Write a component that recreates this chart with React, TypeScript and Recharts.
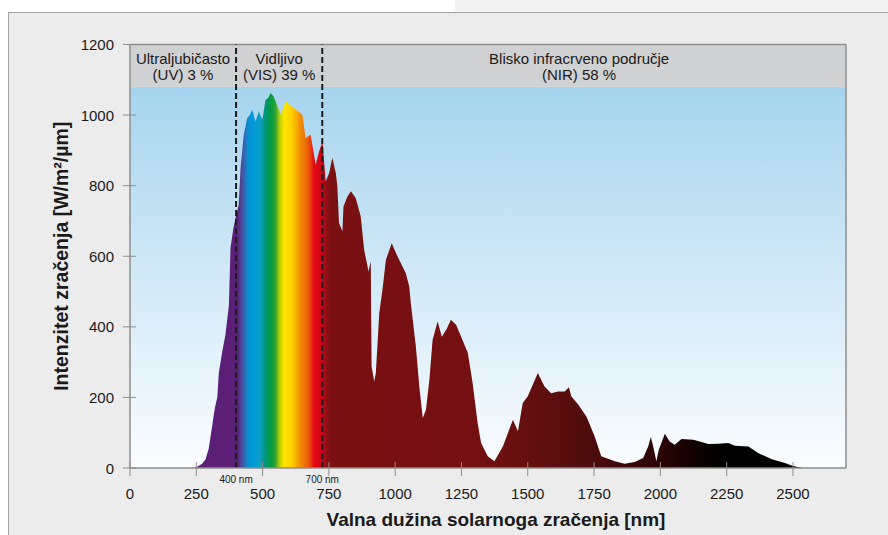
import React from 'react';
import { AreaChart, Area, XAxis, YAxis, ReferenceArea, ReferenceLine } from 'recharts';

// Spectral irradiance of sunlight
const WAVELENGTH_NM = [
  230, 250, 272, 285, 297, 310, 320, 329, 335, 348, 360, 373, 379, 390, 398, 410, 417, 429, 442, 452,
  461, 473, 486, 499, 511, 522, 530, 540, 549, 568, 587, 600, 612, 630, 650, 662, 681, 700, 713, 726,
  738, 751, 763, 776, 782, 788, 801, 805, 820, 833, 851, 870, 883, 896, 899, 908, 911, 921, 927, 940,
  952, 965, 987, 1009, 1040, 1053, 1059, 1078, 1091, 1104, 1116, 1129, 1141, 1160, 1176, 1195, 1210, 1230, 1248, 1274,
  1292, 1311, 1324, 1349, 1374, 1406, 1444, 1463, 1481, 1500, 1538, 1563, 1588, 1614, 1639, 1655, 1664, 1690, 1721, 1752,
  1777, 1828, 1865, 1903, 1935, 1954, 1964, 1973, 1985, 1994, 2017, 2035, 2054, 2080, 2124, 2155, 2181, 2218, 2256, 2281,
  2332, 2370, 2420, 2470, 2495, 2521, 2540,
];
const IRRADIANCE = [
  0, 2, 12, 25, 55, 120, 170, 200, 270, 330, 378, 462, 624, 680, 709, 746, 851, 944, 992, 1000,
  1015, 982, 1010, 987, 1043, 1050, 1062, 1055, 1039, 1001, 1039, 1030, 1024, 1012, 1001, 935, 944, 859, 897, 925,
  812, 836, 879, 836, 798, 695, 670, 741, 769, 784, 765, 713, 618, 571, 557, 585, 288, 245, 269, 439,
  505, 590, 637, 599, 552, 514, 467, 344, 231, 142, 165, 250, 363, 415, 372, 395, 420, 405, 373, 326,
  241, 127, 71, 33, 19, 61, 137, 104, 184, 203, 269, 231, 212, 217, 217, 229, 203, 180, 146, 90,
  33, 19, 12, 17, 28, 61, 88, 61, 19, 52, 97, 75, 66, 82, 80, 74, 68, 69, 71, 63,
  61, 42, 25, 14, 7, 2, 0,
];

const X_TICKS = [0, 250, 500, 750, 1000, 1250, 1500, 1750, 2000, 2250, 2500];
const Y_TICKS = [0, 200, 400, 600, 800, 1000, 1200];

const BAND_START = [0, 400, 725];
const BAND_END = [400, 725, 2700];
const BAND_NAME = ['Ultraljubičasto', 'Vidljivo', 'Blisko infracrveno područje'];
const BAND_SHARE = ['(UV) 3 %', '(VIS) 39 %', '(NIR) 58 %'];

const BOUNDARY_NM = [400, 725];
const BOUNDARY_LABEL = ['400 nm', '700 nm'];

// colour stops of the spectrum fill (wavelength -> colour)
const STOP_NM = [230, 405, 422, 445, 462, 490, 510, 530, 548, 566, 582, 610, 640, 672, 695, 722, 742, 760, 1300, 1600, 1800, 2000, 2150, 2250, 2540];
const STOP_COLOR = [
  '#5b1f77', '#5b1f77', '#4a4c9e', '#0a8fd0', '#0098d8', '#0aa0c6', '#00967a', '#009a3e', '#2ea236', '#c6d200',
  '#ffe600', '#fdcf00', '#f39200', '#eb5b0c', '#e30613', '#d0061a', '#8c1014', '#7a1012', '#741012', '#5c0e0e',
  '#470a0a', '#2c0505', '#0d0101', '#000000', '#000000',
];

const data = WAVELENGTH_NM.map((wl, i) => ({ wl, v: IRRADIANCE[i] }));

const FONT = '"Liberation Sans", Arial, Helvetica, sans-serif';
const AXIS_GREY = '#8e8e8e';
const TEXT = '#1a1a1a';

const YTick = (props: any) => {
  const { x, y, payload } = props;
  return (
    <g>
      <line x1={x - 7} x2={x + 6} y1={y} y2={y} stroke={AXIS_GREY} strokeWidth={1} />
      <text x={x - 16} y={y} dy={5.5} textAnchor="end" fontSize={15} fill={TEXT} fontFamily={FONT}>
        {payload.value}
      </text>
    </g>
  );
};

const XTick = (props: any) => {
  const { x, y, payload } = props;
  return (
    <g>
      <line x1={x} x2={x} y1={y - 6} y2={y + 8} stroke={AXIS_GREY} strokeWidth={1} />
      <text x={x} y={y + 31} textAnchor="middle" fontSize={15} fill={TEXT} fontFamily={FONT}>
        {payload.value}
      </text>
    </g>
  );
};

export default function App() {
  const wlMin = WAVELENGTH_NM[0];
  const wlMax = WAVELENGTH_NM[WAVELENGTH_NM.length - 1];
  return (
    <div style={{ position: 'absolute', left: 0, top: 0, width: 888, height: 535, background: '#ffffff', overflow: 'hidden' }}>
      <div style={{ position: 'absolute', left: 455, top: 0, width: 433, height: 12, background: '#f3f3f3' }} />
      <div
        style={{
          position: 'absolute', left: 8, top: 12, width: 880, height: 523, background: '#ebeceb',
          borderTop: '1px solid #a3a3a3', borderLeft: '1px solid #a3a3a3', boxSizing: 'border-box',
        }}
      />
      <div style={{ position: 'absolute', left: 0, top: 0 }}>
        <AreaChart width={888} height={535} data={data} margin={{ top: 44.5, right: 42, bottom: 27, left: 0 }}>
          <defs>
            <linearGradient id="spectrum" x1="0" y1="0" x2="1" y2="0">
              {STOP_NM.map((nm, i) => (
                <stop key={i} offset={(nm - wlMin) / (wlMax - wlMin)} stopColor={STOP_COLOR[i]} />
              ))}
            </linearGradient>
            <linearGradient id="sky" x1="0" y1="0" x2="0" y2="1">
              <stop offset={0} stopColor="#a6d4ee" />
              <stop offset={0.5} stopColor="#d2e9f7" />
              <stop offset={1} stopColor="#fbfdff" />
            </linearGradient>
          </defs>
          <XAxis
            dataKey="wl"
            type="number"
            domain={[0, 2700]}
            ticks={X_TICKS}
            tick={<XTick />}
            tickLine={false}
            tickSize={0}
            tickMargin={0}
            axisLine={{ stroke: AXIS_GREY, strokeWidth: 1.5 }}
            height={40}
            interval={0}
            label={(p: any) => {
              const vb = p.viewBox;
              return (
                <text
                  x={vb.x + vb.width / 2 + 8}
                  y={vb.y + 58}
                  textAnchor="middle"
                  fontSize={19}
                  fontWeight="bold"
                  fill={TEXT}
                  fontFamily={FONT}
                >
                  Valna dužina solarnoga zračenja [nm]
                </text>
              );
            }}
          />
          <YAxis
            type="number"
            domain={[0, 1200]}
            ticks={Y_TICKS}
            tick={<YTick />}
            tickLine={false}
            tickSize={0}
            tickMargin={0}
            axisLine={{ stroke: AXIS_GREY, strokeWidth: 1.5 }}
            width={130}
            interval={0}
            label={(p: any) => {
              const vb = p.viewBox;
              const cx = vb.x + 61;
              const cy = vb.y + vb.height / 2;
              return (
                <text
                  x={cx}
                  y={cy}
                  transform={`rotate(-90 ${cx} ${cy})`}
                  textAnchor="middle"
                  dominantBaseline="central"
                  fontSize={19.5}
                  fontWeight="bold"
                  fill={TEXT}
                  fontFamily={FONT}
                >
                  Intenzitet zračenja [W/m²/µm]
                </text>
              );
            }}
          />
          <ReferenceArea x1={0} x2={2700} y1={0} y2={1080} fill="url(#sky)" fillOpacity={1} stroke="none" />
          {BAND_START.map((s, i) => (
            <ReferenceArea
              key={'band' + i}
              x1={s}
              x2={BAND_END[i]}
              y1={1080}
              y2={1200}
              fill="#d0d1d3"
              fillOpacity={1}
              stroke="none"
              label={(p: any) => {
                const vb = p.viewBox;
                const cx = vb.x + vb.width / 2 - (i === 2 ? 5 : 0);
                return (
                  <g>
                    <text x={cx} y={vb.y + 19} textAnchor="middle" fontSize={15} fill={TEXT} fontFamily={FONT}>
                      {BAND_NAME[i]}
                    </text>
                    <text x={cx} y={vb.y + 35.5} textAnchor="middle" fontSize={15} fill={TEXT} fontFamily={FONT}>
                      {BAND_SHARE[i]}
                    </text>
                  </g>
                );
              }}
            />
          ))}
          <Area
            type="linear"
            dataKey="v"
            stroke="none"
            fill="url(#spectrum)"
            fillOpacity={1}
            isAnimationActive={false}
            dot={false}
            activeDot={false}
          />
          <ReferenceLine x={2700} stroke={AXIS_GREY} strokeWidth={1.5} />
          <ReferenceLine y={1200} stroke={AXIS_GREY} strokeWidth={1.5} />
          {BOUNDARY_NM.map((nm, i) => (
            <ReferenceLine
              key={'b' + i}
              x={nm}
              stroke="#1c1c1c"
              strokeWidth={2}
              strokeDasharray="6 3"
              label={(p: any) => {
                const vb = p.viewBox;
                return (
                  <text x={vb.x} y={vb.y + vb.height + 15} textAnchor="middle" fontSize={10} fill={TEXT} fontFamily={FONT}>
                    {BOUNDARY_LABEL[i]}
                  </text>
                );
              }}
            />
          ))}
        </AreaChart>
      </div>
    </div>
  );
}
